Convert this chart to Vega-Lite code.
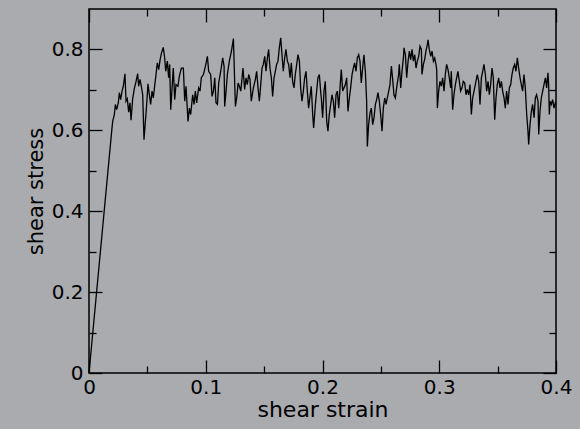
{
 "$schema": "https://vega.github.io/schema/vega-lite/v6.json",
 "width": 467, "height": 364,
 "autosize": {"type": "none"},
 "padding": {"left": 89, "top": 9, "right": 24, "bottom": 56},
 "background": "#a9abae",
 "config": {
  "view": {"stroke": "#000", "strokeWidth": 1.5},
  "axis": {"domain": false, "grid": false, "labelFont": "DejaVu Sans", "titleFont": "DejaVu Sans", "labelFontSize": 20, "titleFontSize": 22, "labelColor": "#000", "titleColor": "#000", "titleFontWeight": "normal", "tickColor": "#000", "tickWidth": 1.3, "labelFlush": false, "labelOverlap": false, "format": "~g"}
 },
 "data": {"values": [
  {"strain":0,"stress":0},
  {"strain":0.0197,"stress":0.606},{"strain":0.0203,"stress":0.622},{"strain":0.0217,"stress":0.639},{"strain":0.0226,"stress":0.664},{"strain":0.0237,"stress":0.651},{"strain":0.0251,"stress":0.668},{"strain":0.0260,"stress":0.693},{"strain":0.0271,"stress":0.676},{"strain":0.0283,"stress":0.697},{"strain":0.0294,"stress":0.709},{"strain":0.0308,"stress":0.740},{"strain":0.0317,"stress":0.672},{"strain":0.0328,"stress":0.678},{"strain":0.0340,"stress":0.645},{"strain":0.0351,"stress":0.668},{"strain":0.0360,"stress":0.625},{"strain":0.0374,"stress":0.678},{"strain":0.0388,"stress":0.703},{"strain":0.0403,"stress":0.721},{"strain":0.0417,"stress":0.740},{"strain":0.0425,"stress":0.709},{"strain":0.0437,"stress":0.726},{"strain":0.0448,"stress":0.709},{"strain":0.0460,"stress":0.688},{"strain":0.0471,"stress":0.577},{"strain":0.0483,"stress":0.622},{"strain":0.0494,"stress":0.664},{"strain":0.0505,"stress":0.715},{"strain":0.0517,"stress":0.688},{"strain":0.0528,"stress":0.664},{"strain":0.0540,"stress":0.697},{"strain":0.0551,"stress":0.680},{"strain":0.0562,"stress":0.709},{"strain":0.0574,"stress":0.738},{"strain":0.0585,"stress":0.767},{"strain":0.0597,"stress":0.750},{"strain":0.0608,"stress":0.773},{"strain":0.0620,"stress":0.790},{"strain":0.0636,"stress":0.805},{"strain":0.0648,"stress":0.780},
  {"strain":0.0657,"stress":0.746},{"strain":0.0671,"stress":0.771},{"strain":0.0682,"stress":0.730},{"strain":0.0691,"stress":0.763},{"strain":0.0700,"stress":0.651},{"strain":0.0722,"stress":0.754},{"strain":0.0734,"stress":0.676},{"strain":0.0745,"stress":0.713},{"strain":0.0762,"stress":0.709},{"strain":0.0774,"stress":0.734},{"strain":0.0791,"stress":0.754},{"strain":0.0808,"stress":0.754},{"strain":0.0820,"stress":0.672},{"strain":0.0831,"stress":0.709},{"strain":0.0848,"stress":0.622},{"strain":0.0860,"stress":0.655},{"strain":0.0871,"stress":0.639},{"strain":0.0888,"stress":0.688},{"strain":0.0900,"stress":0.664},{"strain":0.0911,"stress":0.697},{"strain":0.0922,"stress":0.668},{"strain":0.0939,"stress":0.705},{"strain":0.0951,"stress":0.697},{"strain":0.0962,"stress":0.730},{"strain":0.0980,"stress":0.738},{"strain":0.0997,"stress":0.758},{"strain":0.1014,"stress":0.783},{"strain":0.1025,"stress":0.746},{"strain":0.1042,"stress":0.738},{"strain":0.1054,"stress":0.684},{"strain":0.1066,"stress":0.697},{"strain":0.1077,"stress":0.730},{"strain":0.1088,"stress":0.668},{"strain":0.1100,"stress":0.664},{"strain":0.1111,"stress":0.717},{"strain":0.1128,"stress":0.746},{"strain":0.1145,"stress":0.779},{"strain":0.1157,"stress":0.758},{"strain":0.1162,"stress":0.659},{"strain":0.1174,"stress":0.697},{"strain":0.1185,"stress":0.738},{"strain":0.1202,"stress":0.771},{"strain":0.1220,"stress":0.796},{"strain":0.1237,"stress":0.827},{"strain":0.1248,"stress":0.717},{"strain":0.1254,"stress":0.659},{"strain":0.1265,"stress":0.680},{"strain":0.1277,"stress":0.717},{"strain":0.1288,"stress":0.709},{"strain":0.1300,"stress":0.697},{"strain":0.1311,"stress":0.730},
  {"strain":0.1319,"stress":0.754},{"strain":0.1333,"stress":0.701},{"strain":0.1345,"stress":0.730},{"strain":0.1356,"stress":0.713},{"strain":0.1368,"stress":0.738},{"strain":0.1379,"stress":0.726},{"strain":0.1390,"stress":0.672},{"strain":0.1408,"stress":0.705},{"strain":0.1425,"stress":0.726},{"strain":0.1436,"stress":0.746},{"strain":0.1448,"stress":0.705},{"strain":0.1459,"stress":0.672},{"strain":0.1471,"stress":0.713},{"strain":0.1482,"stress":0.754},{"strain":0.1493,"stress":0.763},{"strain":0.1505,"stress":0.783},{"strain":0.1516,"stress":0.746},{"strain":0.1528,"stress":0.779},{"strain":0.1539,"stress":0.800},{"strain":0.1550,"stress":0.754},{"strain":0.1562,"stress":0.730},{"strain":0.1573,"stress":0.684},{"strain":0.1585,"stress":0.730},{"strain":0.1596,"stress":0.746},{"strain":0.1607,"stress":0.763},{"strain":0.1619,"stress":0.771},{"strain":0.1630,"stress":0.804},{"strain":0.1642,"stress":0.829},{"strain":0.1653,"stress":0.787},{"strain":0.1664,"stress":0.746},{"strain":0.1676,"stress":0.779},{"strain":0.1687,"stress":0.800},{"strain":0.1699,"stress":0.771},{"strain":0.1710,"stress":0.763},{"strain":0.1722,"stress":0.730},{"strain":0.1733,"stress":0.767},{"strain":0.1744,"stress":0.721},{"strain":0.1756,"stress":0.705},{"strain":0.1767,"stress":0.738},{"strain":0.1779,"stress":0.763},{"strain":0.1790,"stress":0.787},{"strain":0.1802,"stress":0.771},{"strain":0.1813,"stress":0.705},{"strain":0.1824,"stress":0.672},{"strain":0.1836,"stress":0.697},{"strain":0.1847,"stress":0.730},{"strain":0.1859,"stress":0.746},{"strain":0.1870,"stress":0.697},{"strain":0.1881,"stress":0.655},{"strain":0.1893,"stress":0.684},{"strain":0.1904,"stress":0.709},{"strain":0.1916,"stress":0.639},{"strain":0.1924,"stress":0.606},{"strain":0.1939,"stress":0.664},{"strain":0.1950,"stress":0.697},{"strain":0.1961,"stress":0.730},{"strain":0.1973,"stress":0.738},{"strain":0.1984,"stress":0.697},
  {"strain":0.1990,"stress":0.680},{"strain":0.2001,"stress":0.631},{"strain":0.2013,"stress":0.697},{"strain":0.2024,"stress":0.721},{"strain":0.2036,"stress":0.622},{"strain":0.2047,"stress":0.598},{"strain":0.2058,"stress":0.639},{"strain":0.2070,"stress":0.664},{"strain":0.2081,"stress":0.688},{"strain":0.2093,"stress":0.672},{"strain":0.2104,"stress":0.631},{"strain":0.2116,"stress":0.688},{"strain":0.2127,"stress":0.697},{"strain":0.2139,"stress":0.655},{"strain":0.2150,"stress":0.705},{"strain":0.2161,"stress":0.750},{"strain":0.2173,"stress":0.697},{"strain":0.2184,"stress":0.705},{"strain":0.2196,"stress":0.713},{"strain":0.2207,"stress":0.730},{"strain":0.2218,"stress":0.647},{"strain":0.2230,"stress":0.680},{"strain":0.2241,"stress":0.705},{"strain":0.2253,"stress":0.738},{"strain":0.2264,"stress":0.754},{"strain":0.2275,"stress":0.767},{"strain":0.2287,"stress":0.746},{"strain":0.2298,"stress":0.779},{"strain":0.2310,"stress":0.787},{"strain":0.2321,"stress":0.771},{"strain":0.2332,"stress":0.717},{"strain":0.2344,"stress":0.754},{"strain":0.2355,"stress":0.787},{"strain":0.2367,"stress":0.746},{"strain":0.2378,"stress":0.672},{"strain":0.2384,"stress":0.560},{"strain":0.2395,"stress":0.614},{"strain":0.2407,"stress":0.643},{"strain":0.2418,"stress":0.655},{"strain":0.2430,"stress":0.614},{"strain":0.2441,"stress":0.631},{"strain":0.2453,"stress":0.664},{"strain":0.2464,"stress":0.676},{"strain":0.2475,"stress":0.693},{"strain":0.2487,"stress":0.672},{"strain":0.2498,"stress":0.639},{"strain":0.2510,"stress":0.598},{"strain":0.2521,"stress":0.655},{"strain":0.2533,"stress":0.680},{"strain":0.2544,"stress":0.664},{"strain":0.2555,"stress":0.680},{"strain":0.2567,"stress":0.697},{"strain":0.2578,"stress":0.713},{"strain":0.2590,"stress":0.759},{"strain":0.2601,"stress":0.726},{"strain":0.2612,"stress":0.688},{"strain":0.2624,"stress":0.680},{"strain":0.2635,"stress":0.705},{"strain":0.2652,"stress":0.738},
  {"strain":0.2658,"stress":0.763},{"strain":0.2670,"stress":0.705},{"strain":0.2681,"stress":0.746},{"strain":0.2693,"stress":0.779},{"strain":0.2698,"stress":0.804},{"strain":0.2710,"stress":0.787},{"strain":0.2721,"stress":0.730},{"strain":0.2733,"stress":0.771},{"strain":0.2744,"stress":0.796},{"strain":0.2755,"stress":0.775},{"strain":0.2767,"stress":0.800},{"strain":0.2778,"stress":0.771},{"strain":0.2790,"stress":0.787},{"strain":0.2801,"stress":0.754},{"strain":0.2812,"stress":0.771},{"strain":0.2824,"stress":0.783},{"strain":0.2835,"stress":0.808},{"strain":0.2847,"stress":0.800},{"strain":0.2852,"stress":0.738},{"strain":0.2864,"stress":0.763},{"strain":0.2875,"stress":0.775},{"strain":0.2886,"stress":0.796},{"strain":0.2898,"stress":0.812},{"strain":0.2904,"stress":0.824},{"strain":0.2915,"stress":0.800},{"strain":0.2927,"stress":0.783},{"strain":0.2938,"stress":0.796},{"strain":0.2950,"stress":0.771},{"strain":0.2961,"stress":0.779},{"strain":0.2972,"stress":0.763},{"strain":0.2978,"stress":0.750},{"strain":0.2984,"stress":0.655},{"strain":0.2995,"stress":0.697},{"strain":0.3006,"stress":0.721},{"strain":0.3018,"stress":0.709},{"strain":0.3029,"stress":0.730},{"strain":0.3041,"stress":0.697},{"strain":0.3052,"stress":0.738},{"strain":0.3063,"stress":0.763},{"strain":0.3075,"stress":0.750},{"strain":0.3086,"stress":0.730},{"strain":0.3098,"stress":0.705},{"strain":0.3103,"stress":0.746},{"strain":0.3115,"stress":0.651},{"strain":0.3126,"stress":0.688},{"strain":0.3138,"stress":0.713},{"strain":0.3149,"stress":0.730},{"strain":0.3160,"stress":0.746},{"strain":0.3172,"stress":0.721},{"strain":0.3183,"stress":0.697},{"strain":0.3195,"stress":0.705},{"strain":0.3206,"stress":0.721},{"strain":0.3218,"stress":0.717},{"strain":0.3229,"stress":0.688},{"strain":0.3240,"stress":0.701},{"strain":0.3252,"stress":0.688},{"strain":0.3263,"stress":0.713},{"strain":0.3275,"stress":0.639},{"strain":0.3286,"stress":0.680},{"strain":0.3298,"stress":0.697},{"strain":0.3309,"stress":0.713},{"strain":0.3320,"stress":0.730},
  {"strain":0.3326,"stress":0.738},{"strain":0.3338,"stress":0.721},{"strain":0.3349,"stress":0.664},{"strain":0.3361,"stress":0.730},{"strain":0.3372,"stress":0.746},{"strain":0.3383,"stress":0.763},{"strain":0.3395,"stress":0.738},{"strain":0.3406,"stress":0.697},{"strain":0.3418,"stress":0.721},{"strain":0.3429,"stress":0.688},{"strain":0.3440,"stress":0.713},{"strain":0.3452,"stress":0.754},{"strain":0.3463,"stress":0.730},{"strain":0.3475,"stress":0.626},{"strain":0.3486,"stress":0.680},{"strain":0.3497,"stress":0.713},{"strain":0.3509,"stress":0.730},{"strain":0.3520,"stress":0.705},{"strain":0.3532,"stress":0.721},{"strain":0.3543,"stress":0.697},{"strain":0.3555,"stress":0.680},{"strain":0.3566,"stress":0.655},{"strain":0.3577,"stress":0.697},{"strain":0.3589,"stress":0.664},{"strain":0.3600,"stress":0.705},{"strain":0.3612,"stress":0.713},{"strain":0.3623,"stress":0.738},{"strain":0.3634,"stress":0.754},{"strain":0.3646,"stress":0.763},{"strain":0.3657,"stress":0.746},{"strain":0.3669,"stress":0.779},{"strain":0.3680,"stress":0.754},{"strain":0.3692,"stress":0.730},{"strain":0.3703,"stress":0.713},{"strain":0.3714,"stress":0.697},{"strain":0.3726,"stress":0.738},{"strain":0.3737,"stress":0.705},{"strain":0.3749,"stress":0.639},{"strain":0.3760,"stress":0.598},{"strain":0.3766,"stress":0.565},{"strain":0.3777,"stress":0.614},{"strain":0.3789,"stress":0.647},{"strain":0.3800,"stress":0.664},{"strain":0.3812,"stress":0.631},{"strain":0.3823,"stress":0.680},{"strain":0.3834,"stress":0.688},{"strain":0.3846,"stress":0.672},{"strain":0.3852,"stress":0.590},{"strain":0.3863,"stress":0.647},{"strain":0.3874,"stress":0.680},{"strain":0.3886,"stress":0.697},{"strain":0.3897,"stress":0.713},{"strain":0.3909,"stress":0.730},{"strain":0.3920,"stress":0.705},{"strain":0.3931,"stress":0.742},{"strain":0.3937,"stress":0.713},{"strain":0.3943,"stress":0.639},{"strain":0.3949,"stress":0.672},{"strain":0.3960,"stress":0.664},{"strain":0.3971,"stress":0.676},{"strain":0.3983,"stress":0.655},{"strain":0.3994,"stress":0.668},{"strain":0.4000,"stress":0.664}
 ]},
 "resolve": {"axis": {"x": "independent", "y": "independent"}},
 "layer": [
  {"mark": {"type": "line", "color": "#000", "strokeWidth": 1.3},
   "encoding": {
    "x": {"field": "strain", "type": "quantitative", "scale": {"domain": [0, 0.4], "nice": false}, "axis": {"orient": "bottom", "ticks": false, "values": [0, 0.1, 0.2, 0.3, 0.4], "labelPadding": 4, "title": "shear strain", "titleFontSize": 22, "titlePadding": 2}},
    "y": {"field": "stress", "type": "quantitative", "scale": {"domain": [0, 0.9], "nice": false, "zero": false}, "axis": {"orient": "left", "ticks": false, "values": [0, 0.2, 0.4, 0.6, 0.8], "labelPadding": 6, "title": "shear stress", "titleFontSize": 21, "titlePadding": 5}}}},
  {"mark": {"type": "line", "strokeOpacity": 0},
   "encoding": {
    "x": {"field": "strain", "type": "quantitative", "scale": {"domain": [0, 0.4], "nice": false}, "axis": {"orient": "bottom", "labels": false, "title": null, "values": [0, 0.1, 0.2, 0.3, 0.4], "tickSize": -13}},
    "y": {"field": "stress", "type": "quantitative", "scale": {"domain": [0, 0.9], "nice": false, "zero": false}, "axis": {"orient": "left", "labels": false, "title": null, "values": [0, 0.2, 0.4, 0.6, 0.8], "tickSize": -13}}}},
  {"mark": {"type": "line", "strokeOpacity": 0},
   "encoding": {
    "x": {"field": "strain", "type": "quantitative", "scale": {"domain": [0, 0.4], "nice": false}, "axis": {"orient": "bottom", "labels": false, "title": null, "values": [0.05, 0.15, 0.25, 0.35], "tickSize": -7}},
    "y": {"field": "stress", "type": "quantitative", "scale": {"domain": [0, 0.9], "nice": false, "zero": false}, "axis": {"orient": "left", "labels": false, "title": null, "values": [0.1, 0.3, 0.5, 0.7], "tickSize": -7}}}},
  {"mark": {"type": "line", "strokeOpacity": 0},
   "encoding": {
    "x": {"field": "strain", "type": "quantitative", "scale": {"domain": [0, 0.4], "nice": false}, "axis": {"orient": "top", "labels": false, "title": null, "values": [0, 0.1, 0.2, 0.3, 0.4], "tickSize": -13}},
    "y": {"field": "stress", "type": "quantitative", "scale": {"domain": [0, 0.9], "nice": false, "zero": false}, "axis": {"orient": "right", "labels": false, "title": null, "values": [0, 0.2, 0.4, 0.6, 0.8], "tickSize": -13}}}},
  {"mark": {"type": "line", "strokeOpacity": 0},
   "encoding": {
    "x": {"field": "strain", "type": "quantitative", "scale": {"domain": [0, 0.4], "nice": false}, "axis": {"orient": "top", "labels": false, "title": null, "values": [0.05, 0.15, 0.25, 0.35], "tickSize": -7}},
    "y": {"field": "stress", "type": "quantitative", "scale": {"domain": [0, 0.9], "nice": false, "zero": false}, "axis": {"orient": "right", "labels": false, "title": null, "values": [0.1, 0.3, 0.5, 0.7], "tickSize": -7}}}}
 ]
}
